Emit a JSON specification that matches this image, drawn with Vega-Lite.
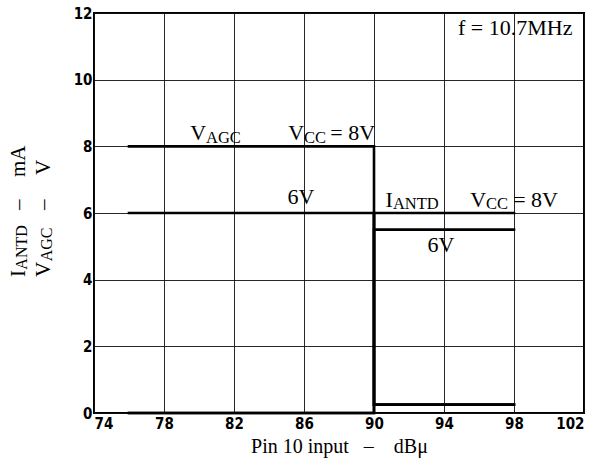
{
  "$schema": "https://vega.github.io/schema/vega-lite/v6.json",
  "width": 490,
  "height": 400,
  "autosize": {"type": "none"},
  "padding": {"left": 94, "top": 13, "right": 8, "bottom": 48},
  "background": "white",
  "config": {
    "view": {"stroke": "black", "strokeWidth": 2},
    "axis": {
      "domain": false,
      "ticks": false,
      "grid": true,
      "gridColor": "#111111",
      "gridWidth": 1,
      "gridOpacity": 0.9,
      "labelFont": "DejaVu Sans Condensed, DejaVu Sans",
      "labelFontWeight": "bold",
      "labelFontSize": 15,
      "labelColor": "black",
      "titleFont": "Liberation Serif",
      "titleFontWeight": "normal",
      "titleFontSize": 20,
      "titleColor": "black"
    },
    "text": {"font": "Liberation Serif", "color": "black", "align": "left", "baseline": "alphabetic"}
  },
  "datasets": {
    "curves": [
      {"series": "VAGC 8V", "k": 1, "input": 76, "value": 8},
      {"series": "VAGC 8V", "k": 2, "input": 90, "value": 8},
      {"series": "VAGC 8V", "k": 3, "input": 90, "value": 0.25},
      {"series": "VAGC 8V", "k": 4, "input": 98, "value": 0.25},
      {"series": "VAGC 6V", "k": 1, "input": 76, "value": 6},
      {"series": "VAGC 6V", "k": 2, "input": 90, "value": 6},
      {"series": "VAGC 6V", "k": 3, "input": 90, "value": 0.25},
      {"series": "VAGC 6V", "k": 4, "input": 98, "value": 0.25},
      {"series": "IANTD 8V", "k": 1, "input": 76, "value": 0},
      {"series": "IANTD 8V", "k": 2, "input": 90, "value": 0},
      {"series": "IANTD 8V", "k": 3, "input": 90, "value": 6},
      {"series": "IANTD 8V", "k": 4, "input": 98, "value": 6},
      {"series": "IANTD 6V", "k": 1, "input": 76, "value": 0},
      {"series": "IANTD 6V", "k": 2, "input": 90, "value": 0},
      {"series": "IANTD 6V", "k": 3, "input": 90, "value": 5.5},
      {"series": "IANTD 6V", "k": 4, "input": 98, "value": 5.5}
    ],
    "notes": [
      {"part": "main", "t": "V", "input": 79.5, "value": 8.2},
      {"part": "sub", "t": "AGC", "input": 80.4, "value": 8.1},
      {"part": "main", "t": "V", "input": 85.1, "value": 8.2},
      {"part": "sub", "t": "CC", "input": 86.0, "value": 8.1},
      {"part": "main", "t": "= 8V", "input": 87.5, "value": 8.2},
      {"part": "main", "t": "6V", "input": 85.05, "value": 6.27},
      {"part": "main", "t": "I", "input": 90.65, "value": 6.18},
      {"part": "sub", "t": "ANTD", "input": 91.08, "value": 6.12},
      {"part": "main", "t": "V", "input": 95.5, "value": 6.18},
      {"part": "sub", "t": "CC", "input": 96.4, "value": 6.12},
      {"part": "main", "t": "= 8V", "input": 97.95, "value": 6.18},
      {"part": "main", "t": "6V", "input": 93.05, "value": 4.83},
      {"part": "main", "t": "f = 10.7MHz", "input": 94.8, "value": 11.34},
      {"part": "vmain", "t": "I", "input": 70.06, "value": 4.08},
      {"part": "vsub", "t": "ANTD", "input": 70.17, "value": 4.3},
      {"part": "vmain", "t": "–", "input": 70.06, "value": 6.09},
      {"part": "vmain", "t": "mA", "input": 70.06, "value": 7.08},
      {"part": "vmain", "t": "V", "input": 71.49, "value": 4.08},
      {"part": "vsub", "t": "AGC", "input": 71.6, "value": 4.55},
      {"part": "vmain", "t": "–", "input": 71.49, "value": 6.09},
      {"part": "vmain", "t": "V", "input": 71.49, "value": 7.14}
    ]
  },
  "layer": [
    {
      "data": {"name": "curves"},
      "mark": {"type": "line", "color": "black", "strokeWidth": 2.6, "strokeCap": "square"},
      "encoding": {
        "x": {
          "field": "input", "type": "quantitative",
          "scale": {"domain": [74, 102], "nice": false, "zero": false},
          "axis": {
            "values": [74, 78, 82, 86, 90, 94, 98, 102],
            "labelPadding": 3,
            "title": "Pin 10 input\u00a0\u00a0\u00a0–\u00a0\u00a0\u00a0\u00a0dBμ",
            "titlePadding": 5
          }
        },
        "y": {
          "field": "value", "type": "quantitative",
          "scale": {"domain": [0, 12], "nice": false, "zero": true},
          "axis": {
            "values": [0, 2, 4, 6, 8, 10, 12],
            "labelPadding": 2,
            "title": null
          }
        },
        "detail": {"field": "series"},
        "order": {"field": "k", "type": "quantitative"}
      }
    },
    {
      "data": {"name": "notes"},
      "transform": [{"filter": "datum.part === 'main'"}],
      "mark": {"type": "text", "fontSize": 22},
      "encoding": {
        "x": {"field": "input", "type": "quantitative"},
        "y": {"field": "value", "type": "quantitative"},
        "text": {"field": "t"}
      }
    },
    {
      "data": {"name": "notes"},
      "transform": [{"filter": "datum.part === 'sub'"}],
      "mark": {"type": "text", "fontSize": 16.5},
      "encoding": {
        "x": {"field": "input", "type": "quantitative"},
        "y": {"field": "value", "type": "quantitative"},
        "text": {"field": "t"}
      }
    },
    {
      "data": {"name": "notes"},
      "transform": [{"filter": "datum.part === 'vmain'"}],
      "mark": {"type": "text", "fontSize": 21, "angle": 270},
      "encoding": {
        "x": {"field": "input", "type": "quantitative"},
        "y": {"field": "value", "type": "quantitative"},
        "text": {"field": "t"}
      }
    },
    {
      "data": {"name": "notes"},
      "transform": [{"filter": "datum.part === 'vsub'"}],
      "mark": {"type": "text", "fontSize": 16, "angle": 270},
      "encoding": {
        "x": {"field": "input", "type": "quantitative"},
        "y": {"field": "value", "type": "quantitative"},
        "text": {"field": "t"}
      }
    }
  ]
}
